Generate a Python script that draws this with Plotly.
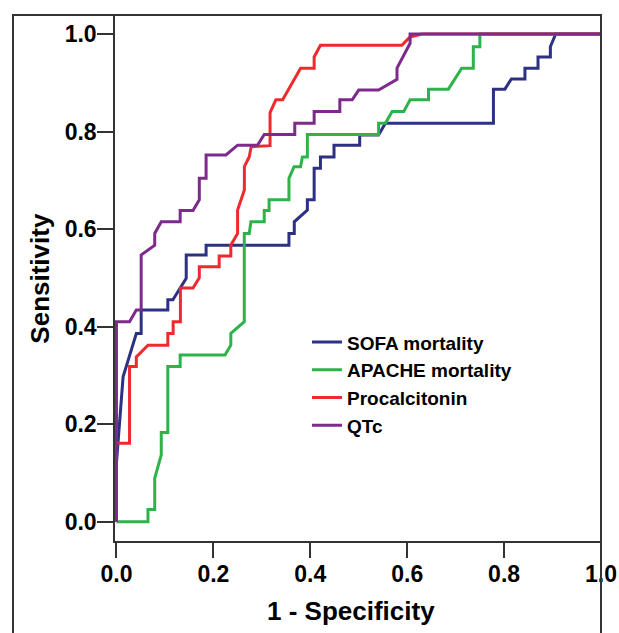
import plotly.graph_objects as go

# ROC curve data
series_names = ["SOFA mortality", "APACHE mortality", "Procalcitonin", "QTc"]
series_colors = ["#2E3082", "#2EB34B", "#EE2A2E", "#7D2A8C"]

sofa_x = [0, 0, 0.0137, 0.041, 0.051, 0.051, 0.106, 0.106, 0.1165, 0.144, 0.144, 0.185, 0.185,
          0.356, 0.356, 0.367, 0.367, 0.394, 0.394, 0.408, 0.408, 0.421, 0.421, 0.449, 0.449,
          0.502, 0.502, 0.541, 0.555, 0.778, 0.778, 0.8017, 0.815, 0.843, 0.843, 0.870, 0.870,
          0.8955, 0.8955, 0.9065, 1.0]
sofa_y = [0, 0.12, 0.297, 0.386, 0.386, 0.434, 0.434, 0.455, 0.455, 0.499, 0.547, 0.547, 0.567,
          0.567, 0.591, 0.591, 0.615, 0.639, 0.66, 0.66, 0.725, 0.725, 0.748, 0.748, 0.772,
          0.772, 0.793, 0.793, 0.817, 0.817, 0.887, 0.887, 0.908, 0.908, 0.930, 0.930, 0.953,
          0.953, 0.974, 1.0, 1.0]

apache_x = [0, 0.065, 0.065, 0.079, 0.079, 0.0925, 0.0925, 0.106, 0.106, 0.1315, 0.1315, 0.224,
            0.236, 0.236, 0.2638, 0.2638, 0.2741, 0.2775, 0.305, 0.305, 0.315, 0.315, 0.356,
            0.356, 0.3666, 0.380, 0.3837, 0.394, 0.394, 0.541, 0.541, 0.555, 0.569, 0.593, 0.606,
            0.644, 0.644, 0.685, 0.7125, 0.7365, 0.7365, 0.750, 0.750, 1.0]
apache_y = [0, 0, 0.025, 0.025, 0.089, 0.137, 0.183, 0.183, 0.318, 0.318, 0.342, 0.342,
            0.362, 0.386, 0.410, 0.591, 0.591, 0.615, 0.615, 0.638, 0.638, 0.660, 0.660,
            0.704, 0.728, 0.728, 0.748, 0.748, 0.794, 0.794, 0.817, 0.817, 0.841, 0.841, 0.865,
            0.865, 0.887, 0.887, 0.930, 0.930, 0.974, 0.974, 1.0, 1.0]

pct_x = [0, 0, 0.027, 0.027, 0.041, 0.041, 0.065, 0.106, 0.106, 0.117, 0.117, 0.132, 0.132,
         0.158, 0.171, 0.171, 0.212, 0.212, 0.236, 0.236, 0.250, 0.250, 0.264, 0.264, 0.274,
         0.278, 0.317, 0.317, 0.329, 0.343, 0.380, 0.408, 0.408, 0.421, 0.589, 0.606, 0.630, 1.0]
pct_y = [0, 0.161, 0.161, 0.318, 0.318, 0.338, 0.362, 0.362, 0.386, 0.386, 0.410, 0.410, 0.479,
         0.479, 0.500, 0.523, 0.523, 0.545, 0.545, 0.567, 0.591, 0.639, 0.680, 0.728, 0.748,
         0.769, 0.771, 0.839, 0.865, 0.865, 0.930, 0.930, 0.953, 0.977, 0.977, 0.994, 1.0, 1.0]

qtc_x = [0, 0, 0.027, 0.041, 0.051, 0.051, 0.079, 0.079, 0.0925, 0.1315, 0.1315, 0.158, 0.171,
         0.171, 0.185, 0.185, 0.226, 0.250, 0.291, 0.305, 0.368, 0.368, 0.408, 0.408, 0.461,
         0.461, 0.4865, 0.500, 0.541, 0.579, 0.579, 0.606, 0.606, 1.0]
qtc_y = [0, 0.410, 0.410, 0.434, 0.434, 0.547, 0.567, 0.591, 0.615, 0.615, 0.638, 0.638, 0.660,
         0.704, 0.704, 0.752, 0.752, 0.772, 0.772, 0.794, 0.794, 0.817, 0.817, 0.841, 0.841,
         0.865, 0.865, 0.885, 0.885, 0.907, 0.930, 0.981, 1.0, 1.0]

tick_vals = [0.0, 0.2, 0.4, 0.6, 0.8, 1.0]
x_title = "1 - Specificity"
y_title = "Sensitivity"

FONT = "Liberation Sans, Arial, sans-serif"
AX = "#333333"

fig = go.Figure()
for name, color, xs, ys in zip(series_names, series_colors,
                               [sofa_x, apache_x, pct_x, qtc_x],
                               [sofa_y, apache_y, pct_y, qtc_y]):
    fig.add_trace(go.Scatter(x=xs, y=ys, mode="lines", name=name,
                             line=dict(color=color, width=3)))

fig.update_layout(
    template="none",
    width=619, height=633,
    margin=dict(l=115, r=18, t=15, b=92, autoexpand=False),
    paper_bgcolor="white", plot_bgcolor="white",
    font=dict(family=FONT, color="black"),
    showlegend=True,
    legend=dict(x=0.395, y=0.414, xanchor="left", yanchor="top",
                bgcolor="rgba(0,0,0,0)", borderwidth=0, tracegroupgap=0,
                font=dict(family=FONT, size=19, weight="bold", color="black")),
    xaxis=dict(range=[-0.003, 1.0], tickvals=tick_vals, tickformat=".1f", automargin=False,
               showgrid=False, zeroline=False, showline=True, linecolor=AX, linewidth=1.5,
               ticks="outside", ticklen=15, tickwidth=1.5, tickcolor=AX,
               ticklabelstandoff=-3, ticklabeloverflow="allow",
               tickfont=dict(family=FONT, size=23, weight="bold", color="black")),
    yaxis=dict(range=[-0.0396, 1.039], tickvals=tick_vals, tickformat=".1f", automargin=False,
               showgrid=False, zeroline=False, showline=True, linecolor=AX, linewidth=1.5,
               ticks="outside", ticklen=16, tickwidth=1.5, tickcolor=AX,
               ticklabelstandoff=-4, ticklabeloverflow="allow",
               tickfont=dict(family=FONT, size=23, weight="bold", color="black")),
)

fig.add_annotation(text=x_title, xref="paper", yref="paper", x=0.4866, y=-0.133,
                   xanchor="center", yanchor="middle", showarrow=False,
                   font=dict(family=FONT, size=26, weight="bold", color="black"))
fig.add_annotation(text=y_title, xref="paper", yref="paper", x=-0.155, y=0.5,
                   xanchor="center", yanchor="middle", showarrow=False, textangle=-90,
                   font=dict(family=FONT, size=26, weight="bold", color="black"))

fig.add_shape(type="rect", xref="paper", yref="paper", x0=-0.2099, x1=1.0, y0=-0.25, y1=1.0,
              line=dict(color=AX, width=2), fillcolor="rgba(0,0,0,0)", layer="above")

# remove the page's default body margin and scrollbars so the figure fills the window
page_fix = ("document.body.style.margin='0px';"
            "document.body.style.overflow='hidden';"
            "document.documentElement.style.overflow='hidden';")
fig.write_html("out.html", post_script=page_fix, config={"displayModeBar": False})
